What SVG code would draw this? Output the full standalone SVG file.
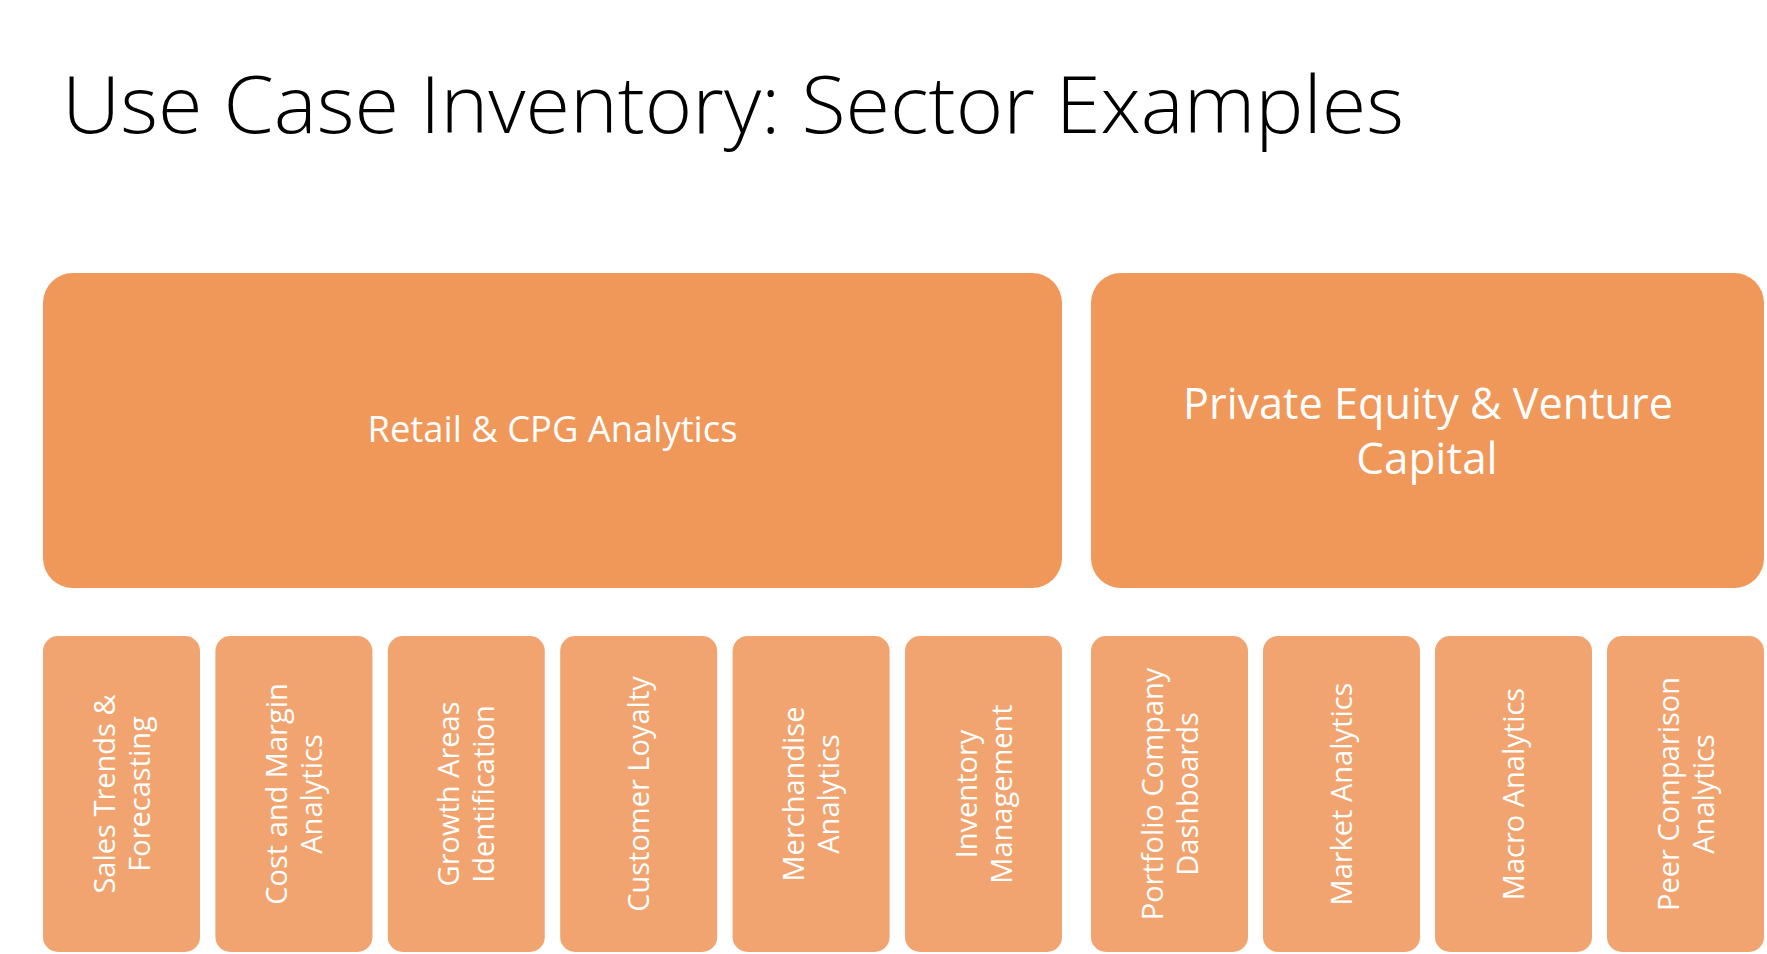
<svg xmlns="http://www.w3.org/2000/svg" width="1767" height="954" viewBox="0 0 1767 954">
<style>
.title{font-family:"Open Sans","Liberation Sans",sans-serif;font-weight:300;font-size:80px;fill:#000}
.big{fill:#F0975A}
.small{fill:#F1A46F}
.ht{font-family:"Open Sans","Liberation Sans",sans-serif;fill:#fff;text-anchor:middle}
.st{font-family:"Open Sans","Liberation Sans",sans-serif;font-size:29px;fill:#fff;text-anchor:middle}
</style>
<rect width="1767" height="954" fill="#fff"/>
<text class="title" x="62" y="133" textLength="1342" lengthAdjust="spacingAndGlyphs">Use Case Inventory: Sector Examples</text>
<g id="connectors"></g>
<g id="retail">
<rect class="big" x="43" y="273" width="1019" height="315" rx="30"/>
<text class="ht" x="552.5" y="442" font-size="37" textLength="370" lengthAdjust="spacingAndGlyphs">Retail &amp; CPG Analytics</text>
</g>
<g id="pevc">
<rect class="big" x="1091" y="273" width="673" height="315" rx="30"/>
<text class="ht" x="1428" y="419" font-size="44" textLength="490" lengthAdjust="spacingAndGlyphs">Private Equity &amp; Venture</text>
<text class="ht" x="1427" y="474" font-size="44">Capital</text>
</g>
<g id="sales">
<rect class="small" x="43" y="636" width="157" height="316" rx="15"/>
<g transform="translate(121.5,794) rotate(-90)"><text class="st" x="0" y="-7">Sales Trends &amp;</text><text class="st" x="0" y="28">Forecasting</text></g>
</g>
<g id="cost">
<rect class="small" x="215.4" y="636" width="157" height="316" rx="15"/>
<g transform="translate(293.9,794) rotate(-90)"><text class="st" x="0" y="-7">Cost and Margin</text><text class="st" x="0" y="28">Analytics</text></g>
</g>
<g id="growth">
<rect class="small" x="387.8" y="636" width="157" height="316" rx="15"/>
<g transform="translate(466.3,794) rotate(-90)"><text class="st" x="0" y="-7">Growth Areas</text><text class="st" x="0" y="28">Identification</text></g>
</g>
<g id="loyalty">
<rect class="small" x="560.2" y="636" width="157" height="316" rx="15"/>
<g transform="translate(638.7,794) rotate(-90)"><text class="st" x="0" y="10.5">Customer Loyalty</text></g>
</g>
<g id="merch">
<rect class="small" x="732.6" y="636" width="157" height="316" rx="15"/>
<g transform="translate(811.1,794) rotate(-90)"><text class="st" x="0" y="-7">Merchandise</text><text class="st" x="0" y="28">Analytics</text></g>
</g>
<g id="inventory">
<rect class="small" x="905" y="636" width="157" height="316" rx="15"/>
<g transform="translate(983.5,794) rotate(-90)"><text class="st" x="0" y="-7">Inventory</text><text class="st" x="0" y="28">Management</text></g>
</g>
<g id="portfolio">
<rect class="small" x="1091" y="636" width="157" height="316" rx="15"/>
<g transform="translate(1169.5,794) rotate(-90)"><text class="st" x="0" y="-7">Portfolio Company</text><text class="st" x="0" y="28">Dashboards</text></g>
</g>
<g id="market">
<rect class="small" x="1263" y="636" width="157" height="316" rx="15"/>
<g transform="translate(1341.5,794) rotate(-90)"><text class="st" x="0" y="10.5">Market Analytics</text></g>
</g>
<g id="macro">
<rect class="small" x="1435" y="636" width="157" height="316" rx="15"/>
<g transform="translate(1513.5,794) rotate(-90)"><text class="st" x="0" y="10.5">Macro Analytics</text></g>
</g>
<g id="peer">
<rect class="small" x="1607" y="636" width="157" height="316" rx="15"/>
<g transform="translate(1685.5,794) rotate(-90)"><text class="st" x="0" y="-7">Peer Comparison</text><text class="st" x="0" y="28">Analytics</text></g>
</g>
</svg>
